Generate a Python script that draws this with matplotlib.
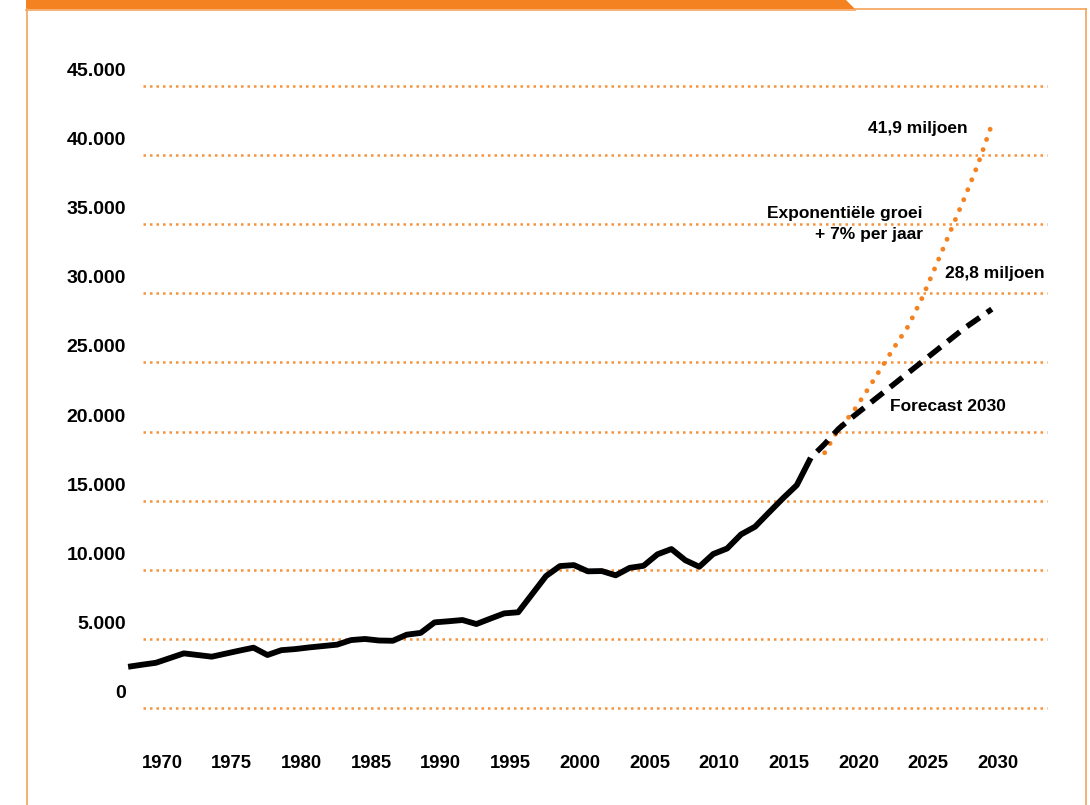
import matplotlib
matplotlib.use('Agg')
import matplotlib.pyplot as plt
from matplotlib.patches import Polygon
from matplotlib.lines import Line2D

plt.rcParams['font.family'] = ['Liberation Sans', 'DejaVu Sans']
plt.rcParams['font.weight'] = 'bold'

# toeristen (x 1000)
years = list(range(1968, 2018))
tourists = [3000, 3150, 3290, 3630, 3970, 3850, 3730, 3950, 4170, 4380,
            3850, 4200, 4280, 4400, 4500, 4600, 4930, 5010, 4900, 4880,
            5320, 5450, 6210, 6290, 6380, 6090, 6480, 6860, 6940, 8250,
            9560, 10280, 10350, 9900, 9920, 9610, 10150, 10300, 11130, 11510,
            10700, 10230, 11150, 11550, 12570, 13120, 14150, 15170, 16130, 18100]

fc_years = list(range(2017, 2031))
forecast = [18100, 19100, 20200, 21050, 21850, 22650, 23450, 24250, 25050,
            25850, 26650, 27450, 28150, 28850]

exp_years = list(range(2018, 2031))
exp_growth = [18470, 20200, 21360, 22900, 24500, 26100, 27620, 29670, 32020,
              34410, 36800, 39300, 42200]

yticks = [0, 5000, 10000, 15000, 20000, 25000, 30000, 35000, 40000, 45000]
xticks = [1970, 1975, 1980, 1985, 1990, 1995, 2000, 2005, 2010, 2015, 2020, 2025, 2030]

ORANGE = '#f58220'
GRID = '#f7923a'

fig = plt.figure(figsize=(10.9, 8.05), dpi=100)
ax = fig.add_axes([0.06642, 0.01702, 0.92018, 0.92807])
ax.set_xlim(1964, 2036)
ax.set_ylim(-6000, 48000)
ax.axis('off')

# dotted gridlines
ax.hlines(yticks, 1969.07, 2033.96, colors=GRID, linewidth=1.8,
          linestyles=(0, (1, 1.6)), zorder=1)

# y labels (sit above the gridlines)
for v in yticks:
    ax.annotate(f'{v:,}'.replace(',', '.'), xy=(0, v),
                xycoords=('axes fraction', 'data'),
                xytext=(53.6, 14.5), textcoords='offset pixels',
                ha='right', va='center', fontsize=14, fontweight='bold')

# x labels
for yr in xticks:
    ax.annotate(str(yr), xy=(yr, 0), xytext=(6, -55.7),
                textcoords='offset pixels', ha='center', va='center',
                fontsize=13.3, fontweight='bold')

ax.plot(exp_years, exp_growth, color=ORANGE, linewidth=3.5,
        linestyle=(0, (0.01, 2.2)), dash_capstyle='round', zorder=2)
ax.plot(fc_years, forecast, color='black', linewidth=4,
        linestyle=(2.8, (2.8, 1.6)), dash_capstyle='butt', zorder=3)
ax.plot(years, tourists, color='black', linewidth=4.2,
        solid_capstyle='butt', solid_joinstyle='round', zorder=4)

ax.annotate('41,9 miljoen', xy=(2030, 41900), xytext=(-24, 0),
            textcoords='offset pixels', ha='right', va='center',
            fontsize=12.5, fontweight='bold')
ax.text(2025.06, 35025, 'Exponentiële groei\n+ 7% per jaar', ha='right',
        va='center', fontsize=12.5, fontweight='bold', linespacing=1.5)
ax.annotate('28,8 miljoen', xy=(2030, 28800), xytext=(-47, 36.8),
            textcoords='offset pixels', ha='left', va='center',
            fontsize=12.5, fontweight='bold')
ax.text(2022.69, 21849, 'Forecast 2030', ha='left', va='center',
        fontsize=12.5, fontweight='bold')

# frame
W, H = 1090, 805
def px(x, y):
    return (x / W, 1 - y / H)

bar = Polygon([px(26, 0), px(846, 0), px(855, 9), px(26, 9)], closed=True,
              transform=fig.transFigure, facecolor=ORANGE, edgecolor='none')
fig.patches.append(bar)
for (x0, y0), (x1, y1) in [((26.5, 9), (26.5, 805)), ((1086, 9), (1086, 805)),
                           ((855, 9.5), (1086, 9.5)), ((26, 10.5), (855, 10.5))]:
    a, b = px(x0, y0), px(x1, y1)
    fig.lines.append(Line2D([a[0], b[0]], [a[1], b[1]], transform=fig.transFigure,
                            color='#f5a259', linewidth=1.2))

fig.savefig('out.png', dpi=100)
